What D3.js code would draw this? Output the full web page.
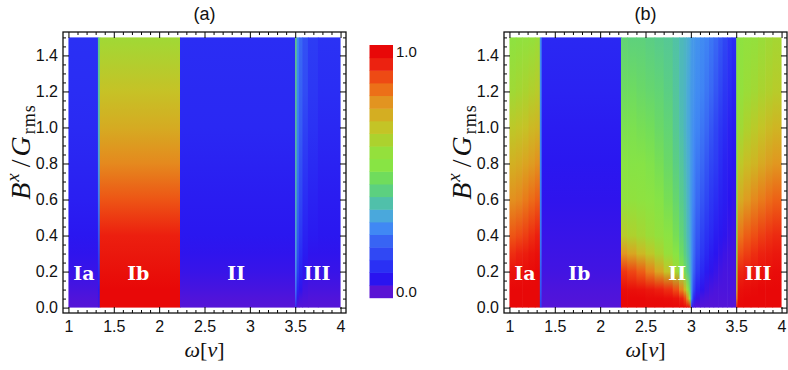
<!DOCTYPE html>
<html>
<head>
<meta charset="utf-8">
<script src="https://cdn.jsdelivr.net/npm/d3@7"></script>
<style>
  body { margin: 0; background: #fff; }
  text { font-family: "Liberation Sans", Arial, sans-serif; }
  .serif { font-family: "Liberation Serif", "Times New Roman", serif; }
  .region { font-family: "DejaVu Serif", serif; font-weight: bold; }
</style>
</head>
<body>
<svg id="chart" width="788" height="370"></svg>
<script>
// ---- datos ----
const omegaTicks = [1, 1.5, 2, 2.5, 3, 3.5, 4];
const fieldTicks = [0, 0.2, 0.4, 0.6, 0.8, 1.0, 1.2, 1.4];
// niveles de B^x/G_rms donde se leyó cada columna
const fieldRows = [0, 0.05, 0.1, 0.2, 0.3, 0.4, 0.6, 0.8, 1.0, 1.2, 1.5];

const regionNames = ["Ia", "Ib", "II", "III"];
const regionOmega = [1.17, 1.77, 2.85, 3.74];
const regionField = 0.19;

// panel (a): bordes de columna en omega y valores por fila
const edgesA = [1, 1.325, 1.345, 2.23, 3.5, 3.515, 3.54, 3.58, 3.64, 3.75, 4];
const valuesA = [
  [0.03, 0.035, 0.045, 0.06, 0.07, 0.08, 0.095, 0.105, 0.115, 0.12, 0.125],
  [0.05, 0.06, 0.08, 0.12, 0.16, 0.2, 0.26, 0.31, 0.35, 0.38, 0.42],
  [0.985, 0.98, 0.975, 0.96, 0.945, 0.93, 0.86, 0.79, 0.73, 0.68, 0.6],
  [0.03, 0.035, 0.045, 0.06, 0.07, 0.08, 0.09, 0.1, 0.11, 0.115, 0.12],
  [0.1, 0.2, 0.25, 0.3, 0.33, 0.35, 0.38, 0.4, 0.42, 0.43, 0.45],
  [0.03, 0.06, 0.1, 0.15, 0.18, 0.2, 0.23, 0.25, 0.26, 0.27, 0.28],
  [0.03, 0.045, 0.07, 0.1, 0.12, 0.14, 0.17, 0.19, 0.21, 0.22, 0.23],
  [0.03, 0.04, 0.05, 0.07, 0.09, 0.1, 0.12, 0.14, 0.16, 0.18, 0.19],
  [0.03, 0.035, 0.045, 0.06, 0.07, 0.085, 0.1, 0.115, 0.13, 0.14, 0.15],
  [0.03, 0.035, 0.045, 0.06, 0.07, 0.08, 0.09, 0.1, 0.11, 0.12, 0.13]
];

// panel (b)
const edgesB = [1, 1.07, 1.14, 1.21, 1.28, 1.335, 1.355, 2.23,
  2.3, 2.4, 2.5, 2.6, 2.7, 2.8, 2.87, 2.92, 2.95, 2.975, 2.99, 3.0, 3.01, 3.025, 3.05,
  3.1, 3.15, 3.2, 3.25, 3.3, 3.35, 3.4, 3.45, 3.5,
  3.515, 3.58, 3.66, 3.74, 3.82, 3.9, 4];
const valuesB = [
  // Ia
  [0.98, 0.98, 0.975, 0.955, 0.91, 0.86, 0.78, 0.72, 0.66, 0.6, 0.55],
  [0.98, 0.98, 0.975, 0.96, 0.925, 0.875, 0.79, 0.73, 0.67, 0.61, 0.56],
  [0.98, 0.98, 0.975, 0.965, 0.935, 0.89, 0.81, 0.745, 0.68, 0.62, 0.565],
  [0.985, 0.98, 0.98, 0.97, 0.95, 0.91, 0.83, 0.76, 0.7, 0.635, 0.575],
  [0.985, 0.98, 0.98, 0.975, 0.96, 0.93, 0.85, 0.78, 0.71, 0.65, 0.585],
  // borde de Ib
  [0.15, 0.18, 0.2, 0.22, 0.24, 0.25, 0.26, 0.27, 0.27, 0.28, 0.28],
  // Ib
  [0.03, 0.035, 0.04, 0.05, 0.055, 0.06, 0.07, 0.08, 0.09, 0.1, 0.11],
  // II (abanico en omega = 3)
  [0.98, 0.975, 0.965, 0.9, 0.77, 0.65, 0.56, 0.53, 0.5, 0.47, 0.44],
  [0.98, 0.975, 0.96, 0.88, 0.74, 0.63, 0.56, 0.52, 0.5, 0.47, 0.43],
  [0.98, 0.975, 0.955, 0.85, 0.7, 0.61, 0.55, 0.52, 0.49, 0.46, 0.43],
  [0.98, 0.97, 0.945, 0.8, 0.66, 0.59, 0.54, 0.51, 0.48, 0.45, 0.42],
  [0.98, 0.97, 0.93, 0.74, 0.62, 0.57, 0.52, 0.49, 0.46, 0.44, 0.41],
  [0.98, 0.965, 0.91, 0.67, 0.58, 0.54, 0.49, 0.46, 0.44, 0.42, 0.4],
  [0.98, 0.955, 0.87, 0.6, 0.53, 0.49, 0.45, 0.42, 0.4, 0.39, 0.38],
  [0.98, 0.93, 0.8, 0.53, 0.47, 0.44, 0.41, 0.39, 0.37, 0.36, 0.36],
  [0.975, 0.88, 0.7, 0.47, 0.42, 0.4, 0.38, 0.36, 0.35, 0.35, 0.35],
  [0.97, 0.78, 0.58, 0.42, 0.38, 0.36, 0.35, 0.34, 0.33, 0.33, 0.34],
  [0.95, 0.6, 0.46, 0.37, 0.35, 0.34, 0.33, 0.33, 0.32, 0.32, 0.33],
  [0.85, 0.45, 0.38, 0.34, 0.33, 0.32, 0.31, 0.31, 0.31, 0.31, 0.32],
  [0.15, 0.3, 0.31, 0.31, 0.3, 0.3, 0.3, 0.3, 0.3, 0.3, 0.31],
  [0.06, 0.2, 0.24, 0.26, 0.27, 0.27, 0.28, 0.29, 0.29, 0.3, 0.3],
  [0.04, 0.1, 0.16, 0.21, 0.23, 0.24, 0.26, 0.27, 0.28, 0.29, 0.3],
  [0.03, 0.06, 0.1, 0.15, 0.18, 0.2, 0.23, 0.25, 0.27, 0.28, 0.29],
  [0.03, 0.045, 0.07, 0.11, 0.14, 0.16, 0.2, 0.23, 0.25, 0.27, 0.28],
  [0.03, 0.04, 0.055, 0.085, 0.11, 0.13, 0.17, 0.2, 0.23, 0.25, 0.27],
  [0.03, 0.035, 0.045, 0.07, 0.09, 0.11, 0.14, 0.17, 0.2, 0.23, 0.25],
  [0.03, 0.035, 0.04, 0.06, 0.075, 0.09, 0.12, 0.15, 0.17, 0.2, 0.23],
  [0.03, 0.035, 0.04, 0.05, 0.065, 0.08, 0.1, 0.12, 0.14, 0.17, 0.2],
  [0.03, 0.035, 0.04, 0.045, 0.055, 0.07, 0.09, 0.1, 0.12, 0.14, 0.17],
  [0.03, 0.035, 0.04, 0.045, 0.05, 0.06, 0.075, 0.09, 0.1, 0.12, 0.14],
  [0.03, 0.035, 0.04, 0.045, 0.05, 0.055, 0.065, 0.08, 0.09, 0.1, 0.12],
  // III
  [0.95, 0.8, 0.7, 0.62, 0.58, 0.56, 0.54, 0.53, 0.52, 0.52, 0.52],
  [0.98, 0.97, 0.96, 0.92, 0.87, 0.82, 0.73, 0.66, 0.6, 0.57, 0.55],
  [0.98, 0.975, 0.965, 0.935, 0.89, 0.85, 0.76, 0.69, 0.63, 0.59, 0.565],
  [0.98, 0.975, 0.97, 0.945, 0.91, 0.87, 0.79, 0.71, 0.655, 0.605, 0.575],
  [0.985, 0.98, 0.975, 0.955, 0.925, 0.89, 0.81, 0.735, 0.675, 0.62, 0.585],
  [0.985, 0.98, 0.975, 0.96, 0.935, 0.905, 0.83, 0.755, 0.695, 0.635, 0.6],
  [0.985, 0.98, 0.975, 0.965, 0.945, 0.915, 0.845, 0.77, 0.71, 0.65, 0.61]
];

// colores de la barra (de 0.0 abajo a 1.0 arriba)
const legendColors = ["#5a14d4", "#2a14f0", "#2a30f4", "#3048f4", "#3864f4", "#4088f4",
  "#4aa8dc", "#50c0aa", "#5cd080", "#70dc5c", "#88e444", "#94e03c", "#acd22e", "#c4c426",
  "#d4ae22", "#e29420", "#ec7018", "#ee4a14", "#ec2210", "#e80808"];
const legendLabels = ["0.0", "1.0"];

// ---- dibujo ----
const svg = d3.select("#chart");
const defs = svg.append("defs");

const color = d3.scaleLinear()
  .domain(legendColors.map((c, i) => (i + 0.5) / legendColors.length))
  .range(legendColors)
  .clamp(true);

function panel(id, xRange, edges, values, title) {
  const x = d3.scaleLinear().domain([0.94, 4.06]).range(xRange);
  const y = d3.scaleLinear().domain([-0.03, 1.53]).range([313, 32]);
  const g = svg.append("g");

  const cols = values.map((v, i) => ({ x0: edges[i], x1: edges[i + 1], v: v }));

  // un degradado vertical por columna
  cols.forEach((c, i) => {
    const gr = defs.append("linearGradient")
      .attr("id", id + "-g" + i)
      .attr("gradientUnits", "userSpaceOnUse")
      .attr("x1", 0).attr("x2", 0)
      .attr("y1", y(0)).attr("y2", y(1.5));
    gr.selectAll("stop").data(c.v).join("stop")
      .attr("offset", (d, j) => (y(fieldRows[j]) - y(0)) / (y(1.5) - y(0)))
      .attr("stop-color", d => color(d));
  });

  g.selectAll("rect.cell").data(cols).join("rect")
    .attr("class", "cell")
    .attr("x", d => x(d.x0))
    .attr("width", (d, i) => x(d.x1) - x(d.x0) + (i < cols.length - 1 ? 0.6 : 0))
    .attr("y", y(1.5))
    .attr("height", y(0) - y(1.5))
    .attr("fill", (d, i) => `url(#${id}-g${i})`);

  // etiquetas de región
  g.selectAll("text.region").data(regionNames).join("text")
    .attr("class", "region")
    .attr("x", (d, i) => x(regionOmega[i]))
    .attr("y", y(regionField))
    .attr("dy", "0.35em")
    .attr("text-anchor", "middle")
    .attr("fill", "#fff")
    .attr("font-size", "19px")
    .text(d => d);

  // ejes con marcas hacia dentro
  const minorX = d3.range(1, 4.001, 0.1).filter(v => Math.abs(v * 2 - Math.round(v * 2)) > 1e-6);
  const minorY = d3.range(0, 1.501, 0.05).filter(v => Math.abs(v * 5 - Math.round(v * 5)) > 1e-6);

  const addAxis = (axis, tr, labels) => {
    const a = g.append("g").attr("transform", tr).call(axis);
    a.select(".domain").remove();
    a.selectAll("line").attr("stroke", "#000");
    a.selectAll("text").attr("font-size", "16px").attr("fill", "#111");
    if (!labels) a.selectAll("text").remove();
  };
  const bottom = y.range()[0], top = y.range()[1];
  const left = xRange[0], right = xRange[1];

  addAxis(d3.axisBottom(x).tickValues(omegaTicks).tickSize(-6).tickPadding(8).tickFormat(d => String(d)), `translate(0,${bottom})`, true);
  addAxis(d3.axisBottom(x).tickValues(minorX).tickSize(-3).tickFormat(""), `translate(0,${bottom})`, false);
  addAxis(d3.axisTop(x).tickValues(omegaTicks).tickSize(-6).tickFormat(""), `translate(0,${top})`, false);
  addAxis(d3.axisTop(x).tickValues(minorX).tickSize(-3).tickFormat(""), `translate(0,${top})`, false);
  addAxis(d3.axisLeft(y).tickValues(fieldTicks).tickSize(-6).tickPadding(5).tickFormat(d3.format(".1f")), `translate(${left},0)`, true);
  addAxis(d3.axisLeft(y).tickValues(minorY).tickSize(-3).tickFormat(""), `translate(${left},0)`, false);
  addAxis(d3.axisRight(y).tickValues(fieldTicks).tickSize(-6).tickFormat(""), `translate(${right},0)`, false);
  addAxis(d3.axisRight(y).tickValues(minorY).tickSize(-3).tickFormat(""), `translate(${right},0)`, false);

  g.append("rect")
    .attr("x", left).attr("y", top)
    .attr("width", right - left).attr("height", bottom - top)
    .attr("fill", "none").attr("stroke", "#111").attr("stroke-width", 1.3);

  // título
  const cx = (left + right) / 2;
  g.append("text").attr("x", cx).attr("y", 20).attr("text-anchor", "middle")
    .attr("font-size", "18px").attr("fill", "#111").text(title);

  // etiqueta eje x: ω[ν]
  const xl = g.append("text").attr("class", "serif").attr("x", cx).attr("y", 357)
    .attr("text-anchor", "middle").attr("font-size", "22px").attr("fill", "#111");
  xl.append("tspan").attr("font-style", "italic").text("ω");
  xl.append("tspan").text("[");
  xl.append("tspan").attr("font-style", "italic").text("ν");
  xl.append("tspan").text("]");

  // etiqueta eje y: B^x/G_rms
  const yl = g.append("text").attr("class", "serif")
    .attr("transform", `translate(${left - 33},152) rotate(-90)`)
    .attr("text-anchor", "middle").attr("font-size", "28px").attr("fill", "#111")
    .attr("letter-spacing", "1px");
  yl.append("tspan").attr("font-style", "italic").text("B");
  yl.append("tspan").attr("font-style", "italic").attr("font-size", "19px").attr("dy", -11).text("x");
  yl.append("tspan").attr("dy", 11).attr("dx", 5).text("/");
  yl.append("tspan").attr("font-style", "italic").attr("dx", 2).text("G");
  yl.append("tspan").attr("font-size", "18px").attr("dy", 5).attr("dx", 1).text("rms");
}

panel("pa", [63, 346], edgesA, valuesA, "(a)");
panel("pb", [504, 787], edgesB, valuesB, "(b)");

// barra de color
const n = legendColors.length;
const yLeg = d3.scaleLinear().domain([0, n]).range([297.7, 45]);
const leg = svg.append("g");
leg.selectAll("rect").data(legendColors).join("rect")
  .attr("x", 369.5).attr("width", 23.5)
  .attr("y", (d, i) => yLeg(i + 1))
  .attr("height", (d, i) => yLeg(i) - yLeg(i + 1) + 0.5)
  .attr("fill", d => d);
leg.selectAll("text").data(legendLabels).join("text")
  .attr("x", 396)
  .attr("y", (d, i) => i === 0 ? yLeg(0.5) : yLeg(n - 0.5))
  .attr("dy", "0.35em")
  .attr("font-size", "15px").attr("fill", "#111")
  .text(d => d);
</script>
</body>
</html>
